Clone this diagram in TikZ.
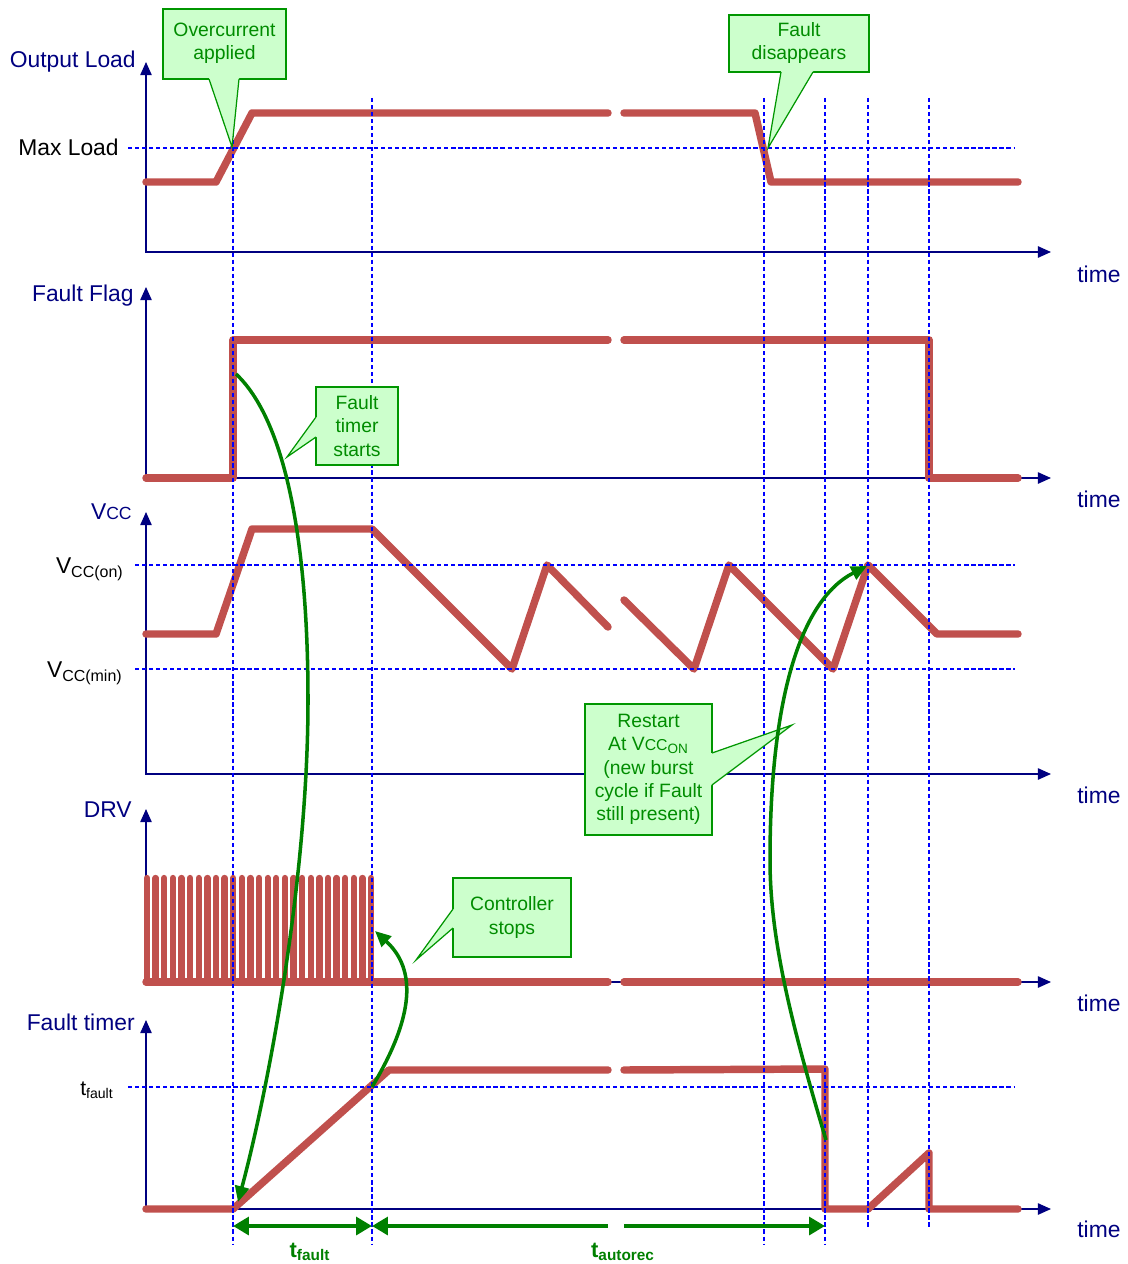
\documentclass[tikz,border=0pt]{standalone}
\usepackage{fontspec}
\setmainfont{Liberation Sans}
\usepackage{tikz}
\usetikzlibrary{arrows.meta}
\definecolor{sigred}{RGB}{192,80,77}
\definecolor{axisblue}{RGB}{0,0,128}
\definecolor{guideblue}{RGB}{0,0,255}
\definecolor{arrgreen}{RGB}{0,128,0}
\definecolor{calltext}{RGB}{0,140,0}
\definecolor{callfill}{RGB}{204,255,204}
\definecolor{callborder}{RGB}{0,150,0}

\begin{document}
\begin{tikzpicture}[x=0.02cm, y=-0.02cm,
    axisln/.style={line width=0.85pt, axisblue,
        {Triangle[length=7.5pt,width=6.5pt]}-{Triangle[length=7.5pt,width=6.5pt]}},
    sig/.style={line width=4.25pt, sigred, line cap=round, line join=round},
    finger/.style={line width=3.6pt, sigred, line cap=round},
    guide/.style={line width=1.35pt, guideblue, dash pattern=on 2.4pt off 1.6pt},
    axlabel/.style={font=\fontsize{13}{15}\selectfont, text=axisblue, inner sep=0pt},
    timelbl/.style={axlabel, anchor=base west},
    callbox/.style={draw=callborder, fill=callfill, line width=0.7pt},
    callline/.style={draw=callborder, line width=0.7pt},
    calltxt/.style={font=\fontsize{11}{13.2}\selectfont, text=calltext,
        align=center, inner sep=0pt},
    flowarr/.style={line width=2pt, arrgreen, -{Triangle[length=9pt,width=8pt]}},
    spanarr/.style={line width=2.4pt, arrgreen},
    spanlbl/.style={font=\fontsize{12.5}{14}\selectfont\bfseries, text=arrgreen,
        inner sep=0pt, anchor=base}]
    \useasboundingbox (0,0) rectangle (1127,1264);

    % ---- OUTPUT LOAD ----
    \draw[axisln] (146,62) -- (146,252) -- (1051,252);
    \node[axlabel, anchor=base east] (lblload) at (136,68) {Output Load};
    \node[axlabel, anchor=base east, text=black] (lblmax) at (119,155) {Max Load};
    \node[timelbl] (time1) at (1077,282) {time};
    \draw[sig] (146,182) -- (216,182) -- (252,113) -- (608,113);
    \draw[sig] (624,113) -- (755,113) -- (771,182) -- (1018,182);

    % ---- FAULT FLAG ----
    \draw[axisln] (146,287) -- (146,478) -- (1051,478);
    \node[axlabel, anchor=base east] (lblflag) at (134,301) {Fault Flag};
    \node[timelbl] (time2) at (1077,507) {time};
    \draw[sig] (146,478) -- (233,478) -- (233,340) -- (608,340);
    \draw[sig] (624,340) -- (929,340) -- (929,478) -- (1018,478);

    % ---- VCC ----
    \draw[axisln] (146,512) -- (146,774) -- (1051,774);
    \node[axlabel, anchor=base east] (lblvcc) at (132,519)
        {V{\fontsize{10}{12}\selectfont CC}};
    \node[axlabel, anchor=base east, text=black] (lblvon) at (124,573)
        {V\textsubscript{CC(on)}};
    \node[axlabel, anchor=base east, text=black] (lblvmin) at (123,677)
        {V\textsubscript{CC(min)}};
    \node[timelbl] (time3) at (1077,803) {time};
    \draw[sig] (146,634) -- (216,634) -- (252,529) -- (372,529) -- (512,669)
        -- (547,565) -- (608,627);
    \draw[sig] (624,600) -- (694,669) -- (729,565) -- (833,669) -- (868,565)
        -- (937,634) -- (1018,634);

    % ---- DRV ----
    \draw[axisln] (146,809) -- (146,982) -- (1051,982);
    \node[axlabel, anchor=base east] (lbldrv) at (132,817) {DRV};
    \node[timelbl] (time4) at (1077,1011) {time};
    \foreach \i in {0,...,26}
        \draw[finger] (147+\i*8.62,982) -- (147+\i*8.62,878);
    \draw[sig] (146,982) -- (608,982);
    \draw[sig] (624,982) -- (1018,982);

    % ---- FAULT TIMER ----
    \draw[axisln] (146,1020) -- (146,1209) -- (1051,1209);
    \node[axlabel, anchor=base east] (lbltimer) at (135,1030) {Fault timer};
    \node[axlabel, anchor=base east, text=black,
          font=\fontsize{12}{14}\selectfont] (lbltf) at (114,1095) {t\textsubscript{fault}};
    \node[timelbl] (time5) at (1077,1237) {time};
    \draw[sig] (146,1209) -- (233,1209) -- (389,1070) -- (608,1070);
    \draw[sig] (624,1070) -- (825,1069) -- (825,1209) -- (868,1209)
        -- (929,1153) -- (929,1209) -- (1018,1209);

    % ---- GUIDE LINES ----
    \draw[guide] (128,148) -- (1015,148);
    \draw[guide] (135,565) -- (1015,565);
    \draw[guide] (135,669) -- (1015,669);
    \draw[guide] (128,1087) -- (1015,1087);
    \draw[guide] (233,98) -- (233,1244);
    \draw[guide] (372,98) -- (372,1244);
    \draw[guide] (764,98) -- (764,1244);
    \draw[guide] (825,98) -- (825,1244);
    \draw[guide] (868,98) -- (868,1228);
    \draw[guide] (929,98) -- (929,1228);

    % ---- CALLOUT: overcurrent ----
    \draw[callbox] (163,9) rectangle (286,79);
    \fill[callfill] (209,77) -- (209,79) -- (232,147) -- (239,79) -- (239,77) -- cycle;
    \draw[callline] (209,79) -- (232,147) -- (239,79);
    \node[calltxt] (cover) at (224.5,43) {Overcurrent\\applied};

    % ---- CALLOUT: fault disappears ----
    \draw[callbox] (729,15) rectangle (869,72);
    \fill[callfill] (781,70) -- (781,72) -- (768,148) -- (813,72) -- (813,70) -- cycle;
    \draw[callline] (781,72) -- (768,148) -- (813,72);
    \node[calltxt] (cgone) at (799,43) {Fault\\disappears};

    % ---- CALLOUT: fault timer starts ----
    \draw[callbox] (316,387) rectangle (398,465);
    \fill[callfill] (318,417) -- (316,417) -- (287,457) -- (316,437) -- (318,437) -- cycle;
    \draw[callline] (316,417) -- (287,457) -- (316,437);
    \node[calltxt] (cstart) at (357,426) {Fault\\timer\\starts};

    % ---- CALLOUT: restart ----
    \draw[callbox] (585,704) rectangle (712,835);
    \fill[callfill] (710,753) -- (712,753) -- (792,725) -- (712,785) -- (710,785) -- cycle;
    \draw[callline] (712,753) -- (792,725) -- (712,785);
    \node[calltxt] (crestart) at (648.5,769.5)
        {Restart\\At V{\fontsize{9}{9}\selectfont CC}\textsubscript{ON}\\(new burst\\cycle if Fault\\still present)};

    % ---- CALLOUT: controller stops ----
    \draw[callbox] (453,878) rectangle (571,957);
    \fill[callfill] (455,909) -- (453,909) -- (416,960) -- (453,928) -- (455,928) -- cycle;
    \draw[callline] (453,909) -- (416,960) -- (453,928);
    \node[calltxt] (cstop) at (512,917.5) {Controller\\stops};

    % ---- GREEN ARROWS ----
    \coordinate (flagup) at (236,374);
    \coordinate (flagmid) at (308,700);
    \coordinate (tmrzero) at (238,1202);
    \draw[flowarr] (flagup) .. controls (285,420) and (308,540) .. (flagmid)
        .. controls (308,880) and (268,1090) .. (tmrzero);

    \coordinate (tmrcross) at (372,1087);
    \coordinate (drvstop) at (375,931);
    \draw[flowarr] (tmrcross) .. controls (420,1007) and (412,965) .. (drvstop);

    \coordinate (tmrfall) at (826,1140);
    \coordinate (loopleft) at (770,860);
    \coordinate (vccpeak) at (867,566);
    \draw[flowarr] (tmrfall) .. controls (792,1026) and (770,940) .. (loopleft)
        .. controls (770,700) and (800,600) .. (vccpeak);

    % ---- SPAN t_fault / t_autorec ----
    \coordinate (sp0) at (233,1226);
    \coordinate (sp1) at (372,1226);
    \coordinate (spgapl) at (608,1226);
    \coordinate (spgapr) at (624,1226);
    \coordinate (sp2) at (825,1226);
    \draw[spanarr, {Triangle[length=9pt,width=10pt]}-{Triangle[length=9pt,width=10pt]}]
        (sp0) -- (sp1);
    \draw[spanarr, {Triangle[length=9pt,width=10pt]}-] (sp1) -- (spgapl);
    \draw[spanarr, -{Triangle[length=9pt,width=10pt]}] (spgapr) -- (sp2);
    \node[spanlbl] (lblfault) at (310,1257) {t\textsubscript{fault}};
    \node[spanlbl] (lblauto) at (623,1257) {t\textsubscript{autorec}};
\end{tikzpicture}
\end{document}
